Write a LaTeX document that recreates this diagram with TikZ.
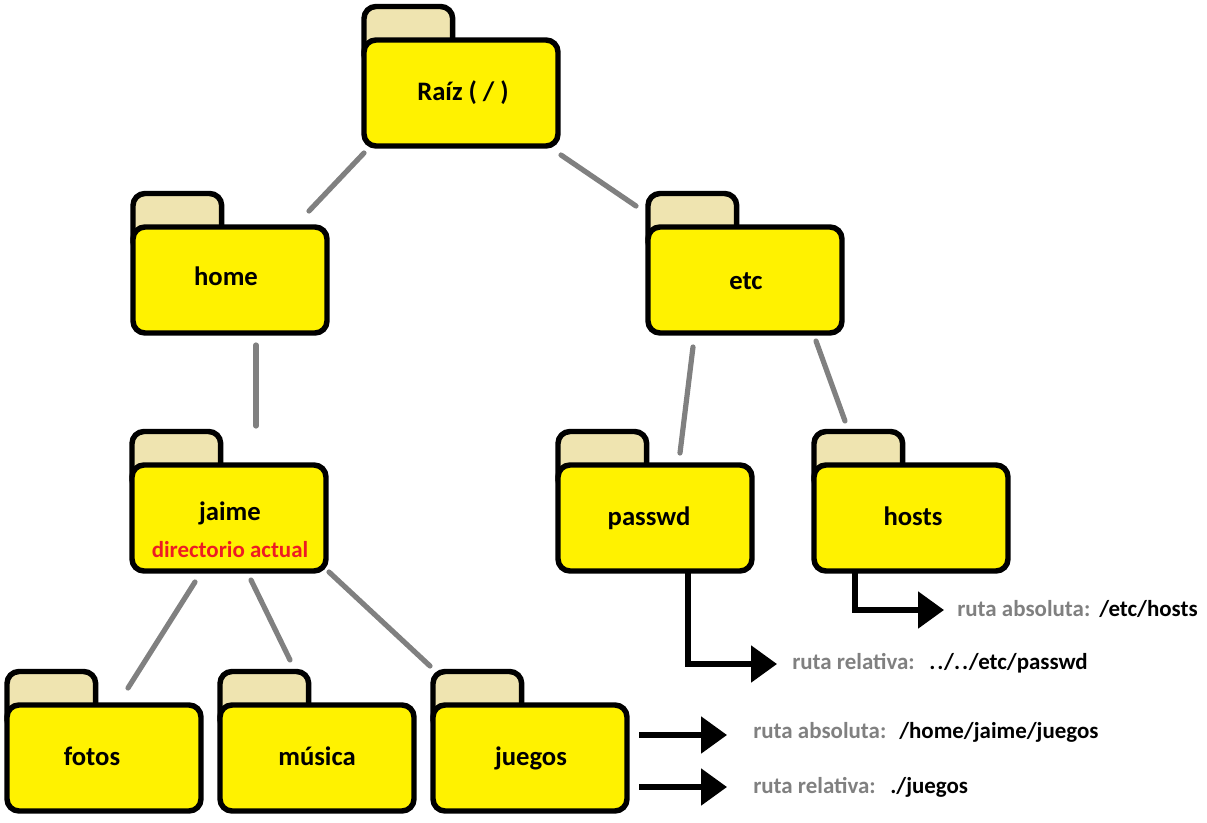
\documentclass[tikz,border=0pt]{standalone}
\usepackage{fontspec}
\setmainfont{Carlito}
\usetikzlibrary{arrows.meta}
\definecolor{foldery}{HTML}{FFF200}
\definecolor{foldert}{HTML}{EFE4B0}
\definecolor{linkg}{HTML}{808080}
\definecolor{actual}{HTML}{ED1C24}
\tikzset{
  foldertab/.style={draw=black,fill=foldert,line width=4.1pt,rounded corners=9pt,minimum width=66.5pt,minimum height=45pt,inner sep=0pt,outer sep=0pt,anchor=north west},
  folderbody/.style={draw=black,fill=foldery,line width=4.1pt,rounded corners=9pt,minimum width=145.5pt,minimum height=79.5pt,inner sep=0pt,outer sep=0pt,anchor=north west},
  foldername/.style={font=\fontsize{20}{22}\selectfont\bfseries,inner sep=0pt,anchor=base},
  link/.style={draw=linkg,line width=3.9pt,line cap=round},
  patharrow/.style={draw=black,line width=4.1pt,-{Triangle[length=19.5pt,width=27pt]}},
  rutaname/.style={font=\fontsize{17.2}{20}\selectfont\bfseries,text=linkg,inner sep=0pt,anchor=base west},
  rutapath/.style={font=\fontsize{17.2}{20}\selectfont\bfseries,inner sep=0pt,anchor=base west}
}
\begin{document}
\begin{tikzpicture}[x=0.75pt,y=-0.75pt]
    \useasboundingbox (0,0) rectangle (1207,822);

    % folders: tab behind, body in front
    \foreach \nm/\xa/\ya in {raiz/364/40,home/133/227,etc/648/227,jaime/132/465,passwd/558/465,hosts/814/465,fotos/7/705,musica/220/705,juegos/433/705} {
      \node[foldertab] (\nm-tab) at (\xa,\ya-33.5) {};
      \node[folderbody] (\nm) at (\xa,\ya) {};
    }

    % folder names
    \foreach \nm/\xa/\ya/\lab in {raiz/463/100/{Raíz ( / )},home/226/285/home,etc/746/289/etc,jaime/230/520/jaime,passwd/649/525/passwd,hosts/913/525/hosts,fotos/92/765/fotos,musica/317/765/música,juegos/531/765/juegos} {
      \node[foldername] (\nm-name) at (\xa,\ya) {\lab};
    }
    \node[foldername,font=\fontsize{17.2}{20}\selectfont\bfseries,text=actual] (jaime-actual) at (230,557) {directorio actual};

    % tree links
    \draw[link] ([shift={(0,7)}]raiz.south west) -- ([shift={(-18,-16)}]home.north east);
    \draw[link] ([shift={(3,9)}]raiz.south east) -- ([shift={(-12,-21)}]etc.north west);
    \draw[link] ([shift={(26,12)}]home.south) -- ([shift={(27,-39)}]jaime.north);
    \draw[link] ([shift={(-52,14)}]etc.south) -- ([shift={(25,-12)}]passwd.north);
    \draw[link] ([shift={(71,8)}]etc.south) -- ([shift={(-66,-44)}]hosts.north);
    \draw[link] ([shift={(-34,11)}]jaime.south) -- ([shift={(24,-17)}]fotos.north);
    \draw[link] ([shift={(22,9)}]jaime.south) -- ([shift={(-27,-45)}]musica.north);
    \draw[link] ([shift={(3,1)}]jaime.south east) -- ([shift={(-3,-39)}]juegos.north west);

    % paths
    \node[rutaname] (hosts-abs) at (957,616) {ruta absoluta:};
    \node[rutapath] (hosts-path) at (1099,616) {/etc/hosts};
    \node[rutaname] (passwd-rel) at (792,669) {ruta relativa:};
    \node[rutapath] (passwd-path) at (929,669) {.\kern1.5pt.\kern.5pt/.\kern1.5pt.\kern.5pt/etc/passwd};
    \node[rutaname] (juegos-abs) at (753,738) {ruta absoluta:};
    \node[rutapath] (juegos-abspath) at (899,738) {/home/jaime/juegos};
    \node[rutaname] (juegos-rel) at (753,793) {ruta relativa:};
    \node[rutapath] (juegos-relpath) at (890,793) {./juegos};

    % arrows
    \coordinate (hosts-tip) at (944,610);
    \coordinate (passwd-tip) at (777,664);
    \coordinate (juegos-abstip) at (727,735);
    \coordinate (juegos-reltip) at (727,787);
    \draw[patharrow] ([shift={(-56,0)}]hosts.south) |- (hosts-tip);
    \draw[patharrow] ([shift={(33,0)}]passwd.south) |- (passwd-tip);
    \draw[patharrow] ([shift={(12,-23)}]juegos.east) -- (juegos-abstip);
    \draw[patharrow] ([shift={(12,29)}]juegos.east) -- (juegos-reltip);
\end{tikzpicture}
\end{document}
